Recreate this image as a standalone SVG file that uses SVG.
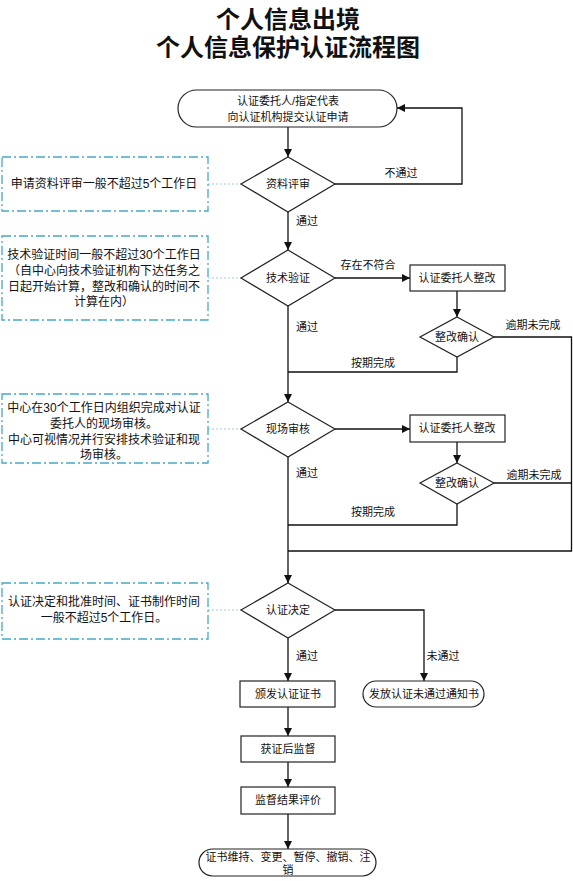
<svg xmlns="http://www.w3.org/2000/svg" width="573" height="881" viewBox="0 0 573 881">
<defs>
<marker id="arr" markerWidth="8" markerHeight="8" refX="8" refY="4" orient="auto" markerUnits="userSpaceOnUse">
<path d="M0,0 L8,4 L0,8 z" fill="#111"/>
</marker>
<style>
text{font-family:"Liberation Sans","Noto Sans CJK SC",sans-serif;fill:#111}
.t{font-size:11px;text-anchor:middle}
.n{font-size:12px;text-anchor:middle}
.title{font-size:24px;font-weight:bold;text-anchor:middle}
.shape{fill:#fff;stroke:#222;stroke-width:1.2}
.note{fill:none;stroke:#45a8c8;stroke-width:1.3;stroke-dasharray:9,3,2,3}
.dot{fill:none;stroke:#9ccbd8;stroke-width:1;stroke-dasharray:2,2}
.c{fill:none;stroke:#111;stroke-width:1.3}
.ca{fill:none;stroke:#111;stroke-width:1.3;marker-end:url(#arr)}
</style>
</defs>
<rect width="573" height="881" fill="#fff"/>
<g id="title">
<text class="title" x="288" y="28">个人信息出境</text>
<text class="title" x="288" y="56">个人信息保护认证流程图</text>
</g>
<g id="connectors">
<path class="ca" d="M288,127 V157"/>
<path class="ca" d="M335,184 H462 V108 H397"/>
<path class="ca" d="M288,212 V250"/>
<path class="ca" d="M335,278 H410"/>
<path class="ca" d="M457,291 V317"/>
<path class="ca" d="M288,306 V402"/>
<path class="c" d="M457,357 V372 H288"/>
<path class="c" d="M494,337 H571.5 V551 H288"/>
<path class="ca" d="M335,429 H410"/>
<path class="ca" d="M457,442 V463"/>
<path class="c" d="M457,504 V525 H288"/>
<path class="c" d="M494,483 H571.5"/>
<path class="ca" d="M288,457 V583"/>
<path class="ca" d="M335,610 H424 V681"/>
<path class="ca" d="M288,638 V681"/>
<path class="ca" d="M288,707 V736"/>
<path class="ca" d="M288,762 V787"/>
<path class="ca" d="M288,814 V849"/>
<path class="dot" d="M208,184 H241"/>
<path class="dot" d="M208,278 H241"/>
<path class="dot" d="M208,429 H241"/>
<path class="dot" d="M208,610 H241"/>
<text class="t" x="401" y="177">不通过</text>
<text class="t" x="307" y="225">通过</text>
<text class="t" x="368" y="269">存在不符合</text>
<text class="t" x="533" y="329">逾期未完成</text>
<text class="t" x="307" y="331">通过</text>
<text class="t" x="373" y="367">按期完成</text>
<text class="t" x="534" y="479">逾期未完成</text>
<text class="t" x="307" y="477">通过</text>
<text class="t" x="373" y="516">按期完成</text>
<text class="t" x="307" y="660">通过</text>
<text class="t" x="443" y="660">未通过</text>
</g>
<g id="start">
<rect class="shape" x="178" y="90" width="219" height="37" rx="18.5"/>
<text class="t" x="288" y="105">认证委托人/指定代表</text>
<text class="t" x="288" y="121">向认证机构提交认证申请</text>
</g>
<g id="review">
<polygon class="shape" points="288,157 335,184 288,212 241,184"/>
<text class="t" x="288" y="188">资料评审</text>
</g>
<g id="note1">
<rect class="note" x="2" y="157" width="206" height="54"/>
<text class="n" x="104" y="188">申请资料评审一般不超过5个工作日</text>
</g>
<g id="tech">
<polygon class="shape" points="288,250 335,278 288,306 241,278"/>
<text class="t" x="288" y="282">技术验证</text>
</g>
<g id="note2">
<rect class="note" x="2" y="236" width="206" height="84"/>
<text class="n" x="104" y="259">技术验证时间一般不超过30个工作日</text>
<text class="n" x="104" y="275">（自中心向技术验证机构下达任务之</text>
<text class="n" x="104" y="291">日起开始计算，整改和确认的时间不</text>
<text class="n" x="104" y="306">计算在内）</text>
</g>
<g id="fix1">
<rect class="shape" x="410" y="265" width="95" height="26"/>
<text class="t" x="457" y="282">认证委托人整改</text>
</g>
<g id="confirm1">
<polygon class="shape" points="457,317 494,337 457,357 420,337"/>
<text class="t" x="457" y="341">整改确认</text>
</g>
<g id="onsite">
<polygon class="shape" points="288,402 335,429 288,457 241,429"/>
<text class="t" x="288" y="433">现场审核</text>
</g>
<g id="note3">
<rect class="note" x="2" y="394" width="206" height="69"/>
<text class="n" x="104" y="412">中心在30个工作日内组织完成对认证</text>
<text class="n" x="104" y="428">委托人的现场审核。</text>
<text class="n" x="104" y="444">中心可视情况并行安排技术验证和现</text>
<text class="n" x="104" y="459">场审核。</text>
</g>
<g id="fix2">
<rect class="shape" x="410" y="415" width="95" height="27"/>
<text class="t" x="457" y="432">认证委托人整改</text>
</g>
<g id="confirm2">
<polygon class="shape" points="457,463 494,483 457,504 420,483"/>
<text class="t" x="457" y="487">整改确认</text>
</g>
<g id="decision">
<polygon class="shape" points="288,583 335,610 288,638 241,610"/>
<text class="t" x="288" y="614">认证决定</text>
</g>
<g id="note4">
<rect class="note" x="2" y="583" width="206" height="56"/>
<text class="n" x="104" y="606">认证决定和批准时间、证书制作时间</text>
<text class="n" x="104" y="622">一般不超过5个工作日。</text>
</g>
<g id="issue">
<rect class="shape" x="240" y="681" width="95" height="26"/>
<text class="t" x="288" y="698">颁发认证证书</text>
</g>
<g id="reject">
<rect class="shape" x="363" y="681" width="121" height="26" rx="13"/>
<text class="t" x="424" y="698">发放认证未通过通知书</text>
</g>
<g id="supervise">
<rect class="shape" x="241" y="736" width="94" height="26"/>
<text class="t" x="288" y="753">获证后监督</text>
</g>
<g id="evaluate">
<rect class="shape" x="241" y="787" width="94" height="27"/>
<text class="t" x="288" y="804">监督结果评价</text>
</g>
<g id="end">
<rect class="shape" x="199" y="849" width="177" height="27" rx="13.5"/>
<text class="t" x="288" y="861">证书维持、变更、暂停、撤销、注</text>
<text class="t" x="288" y="874">销</text>
</g>
</svg>
